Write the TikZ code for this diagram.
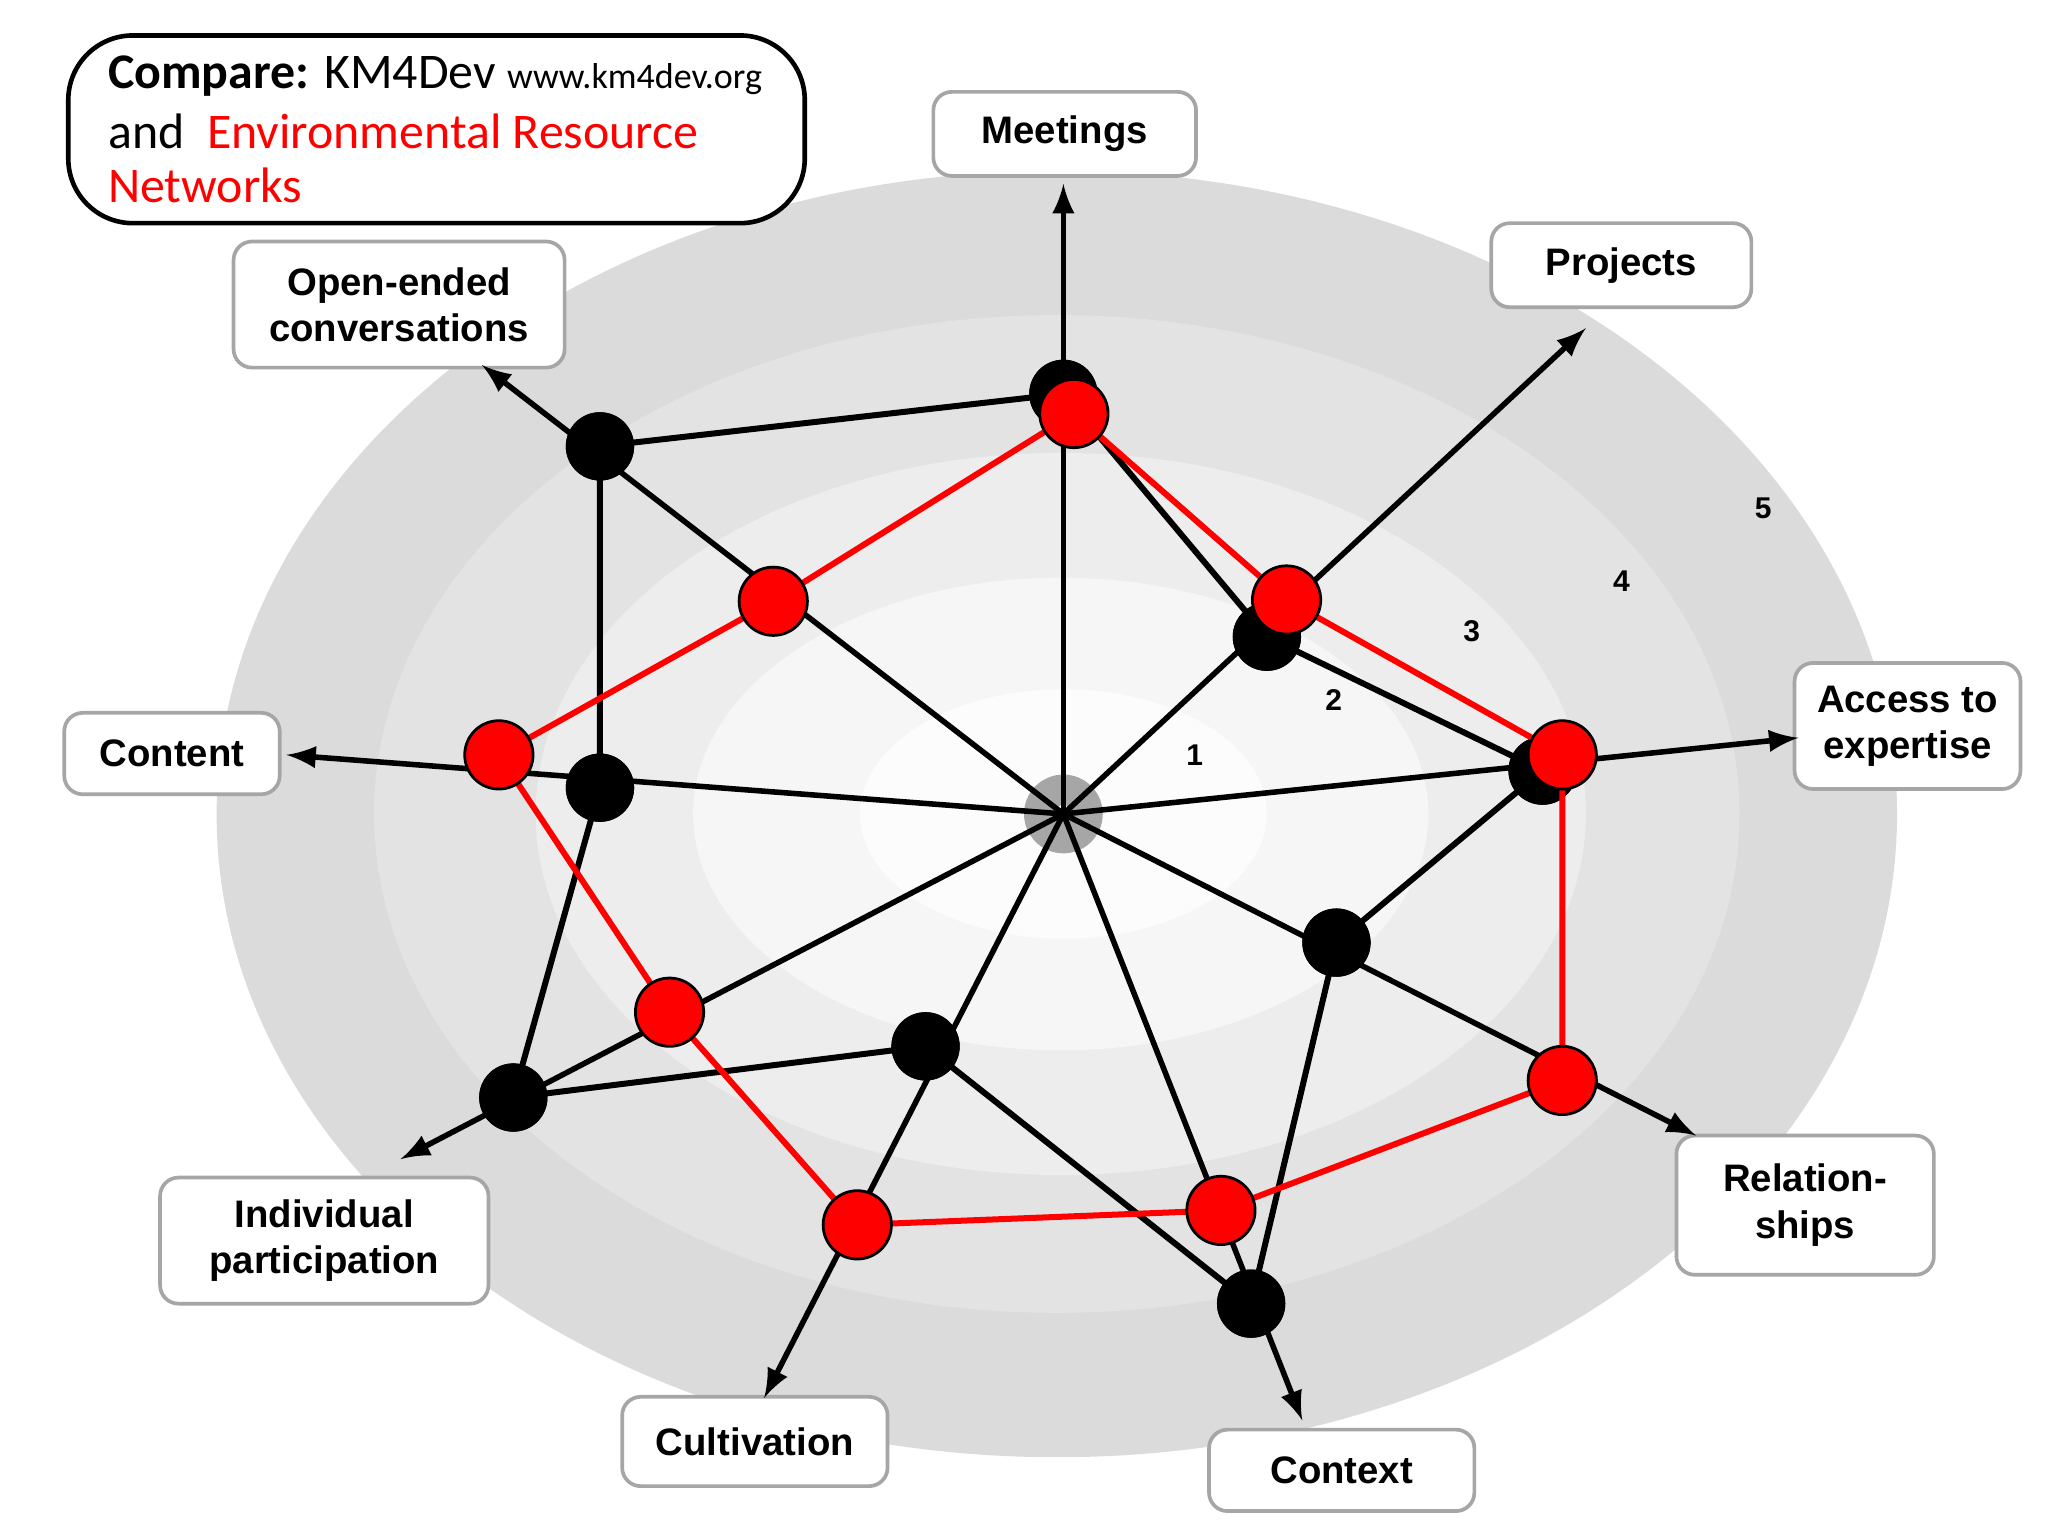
\documentclass[tikz,border=0pt]{standalone}
\usepackage{fontspec}
\setmainfont{Liberation Sans}
\newfontfamily\carlitofont{Carlito}
\begin{document}
\begin{tikzpicture}[x=0.01cm,y=-0.01cm,
 lab/.style={draw=gray!70,line width=0.8pt,rounded corners=4pt,fill=white,font=\fontsize{8.3}{10}\selectfont\bfseries,align=center,inner sep=0pt},
 ax/.style={line width=1.2pt,-latex},
 bd/.style={circle,fill=black,minimum size=0.52cm,inner sep=0pt},
 rd/.style={circle,fill=red,draw=black,line width=0.6pt,minimum size=0.52cm,inner sep=0pt},
 num/.style={font=\fontsize{6.5}{7}\selectfont\bfseries}]
\useasboundingbox (0,0) rectangle (1560,1170);
\fill[white] (0,0) rectangle (1560,1170);
\fill[gray!28] (805,620) ellipse (640 and 490);
\fill[gray!22] (805,620) ellipse (520 and 380);
\fill[gray!14] (808,620) ellipse (400 and 275);
\fill[gray!7] (808,620) ellipse (280 and 180);
\fill[gray!2] (810,620) ellipse (155 and 95);
\fill[gray!70] (810,620) circle (30);
\node[font=\tiny,text=white] (o) at (810,620) {0};
\coordinate (c) at (810,620);
\node[lab,minimum width=2cm,minimum height=0.64cm] (me) at (811,102) {Meetings};
\node[lab,minimum width=1.98cm,minimum height=0.64cm] (pr) at (1235,202) {Projects};
\node[lab,minimum width=1.72cm,minimum height=0.96cm] (ac) at (1453,553) {Access to\\expertise};
\node[lab,minimum width=1.96cm,minimum height=1.06cm] (re) at (1375,918) {Relation-\\ships};
\node[lab,minimum width=2.02cm,minimum height=0.62cm] (cx) at (1022,1120) {Context};
\node[lab,minimum width=2.02cm,minimum height=0.68cm] (cu) at (575,1098) {Cultivation};
\node[lab,minimum width=2.5cm,minimum height=0.96cm] (in) at (247,945) {Individual\\participation};
\node[lab,minimum width=1.64cm,minimum height=0.62cm] (co) at (131,574) {Content};
\node[lab,minimum width=2.52cm,minimum height=0.96cm] (op) at (304,232) {Open-ended\\conversations};
\coordinate (t1) at (810,140); \coordinate (t2) at (1208,250); \coordinate (t3) at (1370,562);
\coordinate (t4) at (1292,865); \coordinate (t5) at (992,1082); \coordinate (t6) at (582,1065);
\coordinate (t7) at (305,883); \coordinate (t8) at (218,575); \coordinate (t9) at (367,278);
\foreach \t in {t1,t2,t3,t4,t5,t6,t7,t8,t9} \draw[ax] (c) -- (\t);
\node[num] (n1) at (910,575) {1}; \node[num] (n2) at (1016,533) {2};
\node[num] (n3) at (1121,481) {3}; \node[num] (n4) at (1235,443) {4};
\node[num] (n5) at (1343,387) {5};
\node[bd] (b1) at (810,300) {}; \node[bd] (b2) at (965,485) {}; \node[bd] (b3) at (1175,587) {};
\node[bd] (b4) at (1018,718) {}; \node[bd] (b5) at (953,993) {}; \node[bd] (b6) at (705,797) {};
\node[bd] (b7) at (391,836) {}; \node[bd] (b8) at (457,600) {}; \node[bd] (b9) at (457,340) {};
\draw[line width=1.3pt] (b1.center)--(b2.center)--(b3.center)--(b4.center)--(b5.center)--(b6.center)--(b7.center)--(b8.center)--(b9.center)--cycle;
\foreach \b in {b1,b2,b3,b4,b5,b6,b7,b8,b9} \fill (\b) circle (26);
\coordinate (r1) at (818,315); \coordinate (r2) at (980,457); \coordinate (r3) at (1190,575);
\coordinate (r4) at (1190,823); \coordinate (r5) at (930,922); \coordinate (r6) at (653,933);
\coordinate (r7) at (510,771); \coordinate (r8) at (380,575); \coordinate (r9) at (589,458);
\draw[red,line width=1.3pt] (r1)--(r2)--(r3)--(r4)--(r5)--(r6)--(r7)--(r8)--(r9)--cycle;
\foreach \r in {r1,r2,r3,r4,r5,r6,r7,r8,r9} \node[rd] at (\r) {};
\draw[line width=1pt,rounded corners=14pt,fill=white] (52,27) rectangle (613,170);
\node[anchor=west,font=\carlitofont\fontsize{10.8}{13}\selectfont] (h1) at (70,58) {\textbf{Compare:} KM4Dev {\fontsize{7.8}{9}\selectfont www.km4dev.org}};
\node[anchor=west,font=\carlitofont\fontsize{10.8}{13}\selectfont] (h2) at (70,100) {and \ \textcolor{red}{Environmental Resource}};
\node[anchor=west,font=\carlitofont\fontsize{10.8}{13}\selectfont,text=red] (h3) at (70,141) {Networks};
\end{tikzpicture}
\end{document}
